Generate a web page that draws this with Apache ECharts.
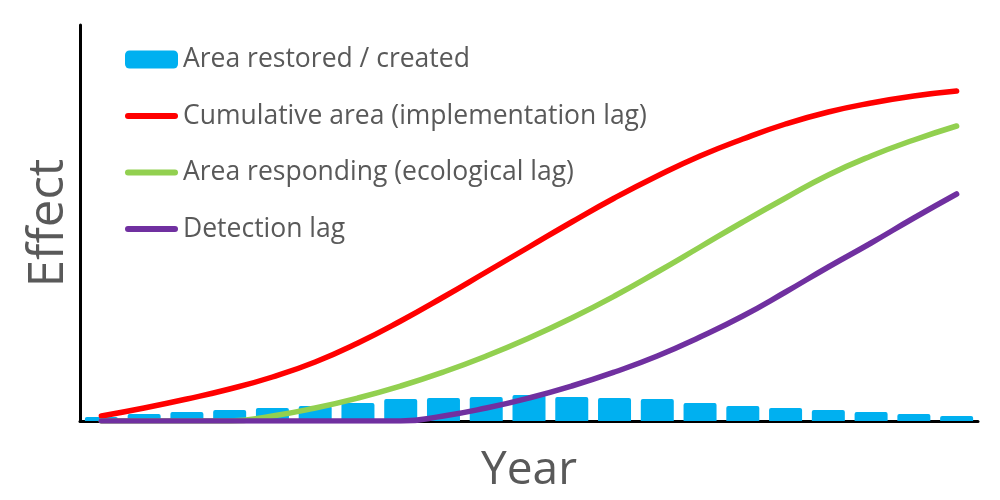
<!DOCTYPE html>
<html>
<head>
    <meta charset="utf-8">
    <title>Restoration lags</title>
    <script src="https://cdn.jsdelivr.net/npm/echarts@6.0.0/dist/echarts.min.js"></script>
    <style>
        html, body { margin: 0; padding: 0; background: #fff; }
        #main { width: 1000px; height: 500px; }
    </style>
</head>
<body>
<div id="main"></div>
<script>
    // 21 years, no tick labels shown on the axis
    var years = ['1', '2', '3', '4', '5', '6', '7', '8', '9', '10', '11',
        '12', '13', '14', '15', '16', '17', '18', '19', '20', '21'];

    var areaRestored = [4, 7, 9, 11, 13, 15, 18, 22, 23, 24, 26,
        24, 23, 22, 18, 15, 13, 11, 9, 7, 5];
    var cumulativeArea = [5, 13, 22, 32, 44, 59, 78, 100, 124, 149, 174,
        199, 223, 245, 265, 282, 297, 309, 318, 325, 330];
    var areaResponding = [0, 0, 0, 0, 5, 13, 23, 35, 49, 65, 83,
        103, 125, 149, 174, 199, 223, 246, 265, 281, 295];
    var detectionLag = [0, 0, 0, 0, 0, 0, 0, 0, 5, 13, 23,
        35, 49, 65, 84, 105, 129, 154, 178, 203, 227];

    var textColor = '#595959';
    var fontFamily = 'Open Sans';
    // rounded bar used as legend icon for the line series
    var lineIcon = 'path://M3,0H50A3,3,0,0,1,50,6H3A3,3,0,0,1,3,0Z';

    var chart = echarts.init(document.getElementById('main'));

    var option = {
        animation: false,
        backgroundColor: '#ffffff',
        textStyle: {fontFamily: fontFamily},
        legend: {
            orient: 'vertical',
            left: 120,
            top: 41,
            itemWidth: 53,
            itemHeight: 18,
            itemGap: 29.5,
            textStyle: {color: textColor, fontSize: 26.5, fontFamily: fontFamily, padding: [0, 0, 0, 0]},
            data: [
                {name: 'Area restored / created', icon: 'roundRect'},
                {name: 'Cumulative area (implementation lag)', icon: lineIcon, itemStyle: {borderWidth: 0}},
                {name: 'Area responding (ecological lag)', icon: lineIcon, itemStyle: {borderWidth: 0}},
                {name: 'Detection lag', icon: lineIcon, itemStyle: {borderWidth: 0}}
            ]
        },
        grid: {left: 80, right: 22, top: 25, bottom: 79},
        xAxis: {
            type: 'category',
            data: years,
            boundaryGap: true,
            name: 'Year',
            nameLocation: 'middle',
            nameGap: 27,
            nameTextStyle: {color: textColor, fontSize: 46, fontFamily: fontFamily},
            axisLine: {lineStyle: {color: '#000', width: 3}},
            axisTick: {show: false},
            axisLabel: {show: false}
        },
        yAxis: {
            type: 'value',
            min: 0,
            max: 396,
            name: 'Effect',
            nameLocation: 'middle',
            nameRotate: 90,
            nameGap: 6,
            nameTextStyle: {color: textColor, fontSize: 49, fontFamily: fontFamily},
            axisLine: {show: true, lineStyle: {color: '#000', width: 3}},
            axisTick: {show: false},
            axisLabel: {show: false},
            splitLine: {show: false}
        },
        series: [
            {
                name: 'Area restored / created',
                type: 'bar',
                data: areaRestored,
                barWidth: 33,
                itemStyle: {color: '#00B0F0', borderRadius: [2, 2, 0, 0]}
            },
            {
                name: 'Cumulative area (implementation lag)',
                type: 'line',
                data: cumulativeArea,
                smooth: 0.5,
                symbol: 'none',
                lineStyle: {color: '#FF0000', width: 5.5, cap: 'round'},
                itemStyle: {color: '#FF0000'}
            },
            {
                name: 'Area responding (ecological lag)',
                type: 'line',
                data: areaResponding,
                smooth: 0.5,
                symbol: 'none',
                lineStyle: {color: '#92D050', width: 5.5, cap: 'round'},
                itemStyle: {color: '#92D050'}
            },
            {
                name: 'Detection lag',
                type: 'line',
                data: detectionLag,
                smooth: 0.5,
                symbol: 'none',
                lineStyle: {color: '#7030A0', width: 5.5, cap: 'round'},
                itemStyle: {color: '#7030A0'}
            }
        ]
    };

    chart.setOption(option);
</script>
</body>
</html>
